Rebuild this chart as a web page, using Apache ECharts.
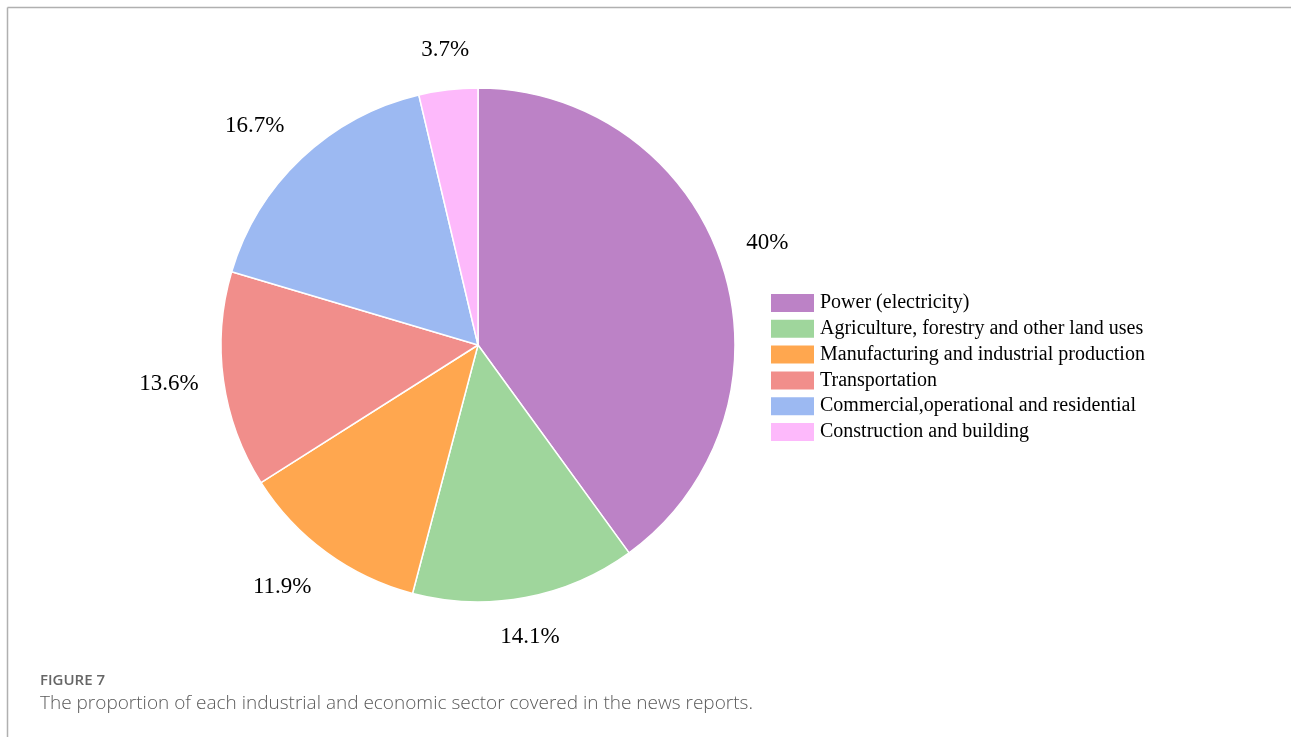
<!DOCTYPE html>
<html>
<head>
<meta charset="utf-8">
<script src="https://cdn.jsdelivr.net/npm/echarts@6/dist/echarts.min.js"></script>
<style>
	html, body { margin: 0; padding: 0; background: #fff; }
	#chart { width: 1291px; height: 737px; }
</style>
</head>
<body>
<div id="chart"></div>
<script>
var sectors = ['Power (electricity)', 'Agriculture, forestry and other land uses', 'Manufacturing and industrial production', 'Transportation', 'Commercial,operational and residential', 'Construction and building'];
var shares = [40, 14.1, 11.9, 13.6, 16.7, 3.7];
var sectorColors = ['#bc82c6', '#9fd69c', '#ffa74f', '#f18e8b', '#9cb9f2', '#fdb9fb'];

var pieCenter = [478, 345];
var pieRadius = 257;
var labelGap = 282; // labels are anchored on this circle, outside-end style

var pieData = sectors.map(function (name, i) {
	return { name: name, value: shares[i], itemStyle: { color: sectorColors[i] } };
});
// same slices, transparent, only used to carry the % labels outside the pie
var labelData = sectors.map(function (name, i) {
	return { name: name, value: shares[i] };
});

var chart = echarts.init(document.getElementById('chart'));

var option = {
	animation: false,
	legend: {
		orient: 'vertical',
		left: 764,
		top: 287,
		itemWidth: 45,
		itemHeight: 20,
		itemGap: 3.8,
		icon: 'rect',
		selectedMode: false,
		data: sectors,
		textStyle: {
			fontFamily: '"Liberation Serif", "Times New Roman", serif',
			fontSize: 20,
			color: '#000'
		}
	},
	graphic: [
		{ type: 'line', shape: { x1: 7.5, y1: 7.5, x2: 1291, y2: 7.5 }, style: { stroke: '#b0b0b0', lineWidth: 1.5 } },
		{ type: 'line', shape: { x1: 7.5, y1: 7.5, x2: 7.5, y2: 737 }, style: { stroke: '#b0b0b0', lineWidth: 1.5 } },
		{
			type: 'text', left: 40, top: 673,
			style: { text: 'FIGURE 7', fill: '#666', font: '600 15px "Open Sans", sans-serif' }
		},
		{
			type: 'text', left: 40, top: 694,
			style: { text: 'The proportion of each industrial and economic sector covered in the news reports.', fill: '#5a5a5a', font: '300 19px "Open Sans", sans-serif' }
		}
	],
	series: [
		{
			type: 'pie',
			center: pieCenter,
			radius: [0, pieRadius],
			startAngle: 90,
			clockwise: true,
			silent: true,
			label: { show: false },
			labelLine: { show: false },
			itemStyle: { borderColor: '#fff', borderWidth: 1.5 },
			data: pieData
		},
		{
			type: 'pie',
			center: pieCenter,
			radius: [280, 320],
			startAngle: 90,
			clockwise: true,
			silent: true,
			itemStyle: { color: 'rgba(0,0,0,0)' },
			label: {
				show: true,
				position: 'inside',
				formatter: function (p) { return p.value + '%'; },
				fontFamily: '"Liberation Serif", "Times New Roman", serif',
				fontSize: 23,
				padding: [3, 0, 3, 0],
				color: '#000'
			},
			labelLine: { show: false },
			// anchor each label on a circle at its slice's mid angle, aligned away from the pie
			labelLayout: function (params) {
				var r = params.labelRect;
				var vx = r.x + r.width / 2 - pieCenter[0];
				var vy = r.y + r.height / 2 - pieCenter[1];
				var d = Math.sqrt(vx * vx + vy * vy);
				var ux = vx / d, uy = vy / d;
				return {
					x: pieCenter[0] + ux * labelGap,
					y: pieCenter[1] + uy * labelGap,
					align: Math.abs(ux) < 0.25 ? 'center' : (ux > 0 ? 'left' : 'right'),
					verticalAlign: Math.abs(uy) < 0.25 ? 'middle' : (uy > 0 ? 'top' : 'bottom')
				};
			},
			data: labelData
		}
	]
};

chart.setOption(option);
</script>
</body>
</html>
